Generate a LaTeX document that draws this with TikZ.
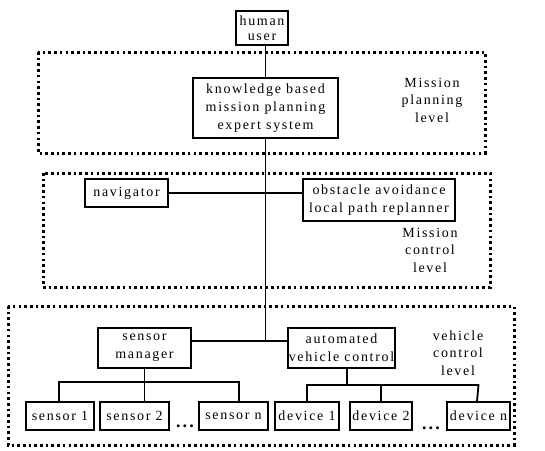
\documentclass[tikz,border=0pt]{standalone}
\usepackage{fontspec}
\setmainfont{Liberation Serif}[LetterSpace=12]
\begin{document}
\begin{tikzpicture}[x=1pt,y=-1pt,
  box/.style={draw,line width=1.6pt,align=center,inner sep=1pt,font=\fontsize{14}{18}\selectfont},
  lvl/.style={align=center,font=\fontsize{14}{17.5}\selectfont},
  dotbox/.style={line width=3pt,dash pattern=on 2.6pt off 3.1pt},
  conn/.style={line width=1.8pt}]
\useasboundingbox (0,0) rectangle (545,450);
% level frames
\draw[dotbox] (38,52) rectangle (485,153);
\draw[dotbox] (43,173) rectangle (490,287);
\draw[dotbox] (8,306) rectangle (514,445);
% nodes
\node[box,minimum width=52,minimum height=34] (human) at (262,28) {human\\[-3pt]user};
\node[box,minimum width=145,minimum height=60] (kb) at (265.5,108) {knowledge based\\mission planning\\expert system};
\node[box,minimum width=83,minimum height=28] (nav) at (126.5,193) {navigator};
\node[box,minimum width=152,minimum height=42] (obs) at (379,200) {obstacle avoidance\\local path replanner};
\node[box,minimum width=93,minimum height=40] (sm) at (144.5,348) {sensor\\manager};
\node[box,minimum width=107,minimum height=40] (avc) at (341.5,348) {automated\\vehicle control};
\node[box,minimum width=68,minimum height=28] (s1) at (60,416) {sensor 1};
\node[box,minimum width=69,minimum height=28] (s2) at (134.5,416) {sensor 2};
\node[box,minimum width=69,minimum height=28] (sn) at (233.5,416) {sensor n};
\node[box,minimum width=64,minimum height=28] (d1) at (307,416) {device 1};
\node[box,minimum width=62,minimum height=28] (d2) at (381,416) {device 2};
\node[box,minimum width=63,minimum height=28] (dn) at (478.5,416) {device n};
\node[font=\fontsize{18}{18}\selectfont\bfseries,anchor=base,inner sep=0pt] (dots1) at (185,427) {...};
\node[font=\fontsize{18}{18}\selectfont\bfseries,anchor=base,inner sep=0pt] (dots2) at (431,429) {...};
% level labels
\node[lvl] (lp) at (432,100) {Mission\\planning\\level};
\node[lvl] (lc) at (430,250) {Mission\\control\\level};
\node[lvl] (lv) at (458,353) {vehicle\\control\\level};
% connectors
\coordinate (jn) at (266,341);
\coordinate (bs) at (0,382);
\coordinate (bd) at (0,385);
\draw[conn] (kb.north) -- (kb.north |- human.south);
\draw[conn] (kb.south) -- (kb.south |- jn);
\draw[conn] (nav.east) -- (obs.west |- nav.east);
\draw[conn] ([yshift=7pt]sm.east) -- ([yshift=7pt]avc.west);
\draw[conn] (sm.south) -- (sm.south |- s2.north);
\draw[conn] ([xshift=-1pt]s1.north) |- (sm.south |- bs) -| ([xshift=5.5pt]sn.north);
\draw[conn] ([xshift=5.5pt]avc.south) -- ([xshift=5.5pt]avc.south |- bd);
\draw[conn] (d1.north) |- (dn.north |- bd) -- ([xshift=-1.5pt]dn.north);
\draw[conn] (d2.north) -- (d2.north |- bd);
\end{tikzpicture}
\end{document}
